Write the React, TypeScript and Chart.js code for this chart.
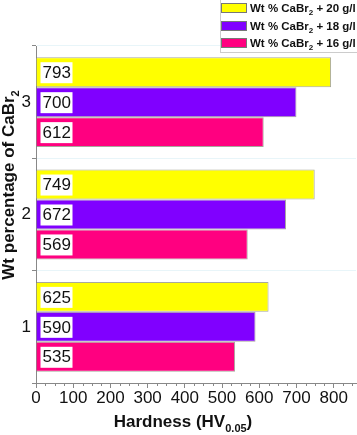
import React, { useEffect, useRef } from 'react';
import { Chart, registerables } from 'chart.js';

Chart.register(...registerables);

// ---- data ----
const categories = ['3', '2', '1'];
const series20 = [793, 749, 625];
const series18 = [700, 672, 590];
const series16 = [612, 569, 535];
const seriesLabels = ['Wt % CaBr_{2} + 20 g/l', 'Wt % CaBr_{2} + 18 g/l', 'Wt % CaBr_{2} + 16 g/l'];
const seriesColors = ['#FFFF00', '#8000FF', '#FF0080'];
const xTitle = 'Hardness (HV_{0.05})';
const yTitle = 'Wt percentage of CaBr_{2}';
const xMin = 0;
const xMax = 860;
const xStep = 100;
const xMinorStep = 25;

const FONT = '"Liberation Sans", Arial, Helvetica, sans-serif';

type Seg = { t: string; sub: boolean };
function parseRich(text: string): Seg[] {
  const out: Seg[] = [];
  const re = /_\{([^}]*)\}/g;
  let last = 0;
  let m: RegExpExecArray | null;
  while ((m = re.exec(text)) !== null) {
    if (m.index > last) out.push({ t: text.slice(last, m.index), sub: false });
    out.push({ t: m[1], sub: true });
    last = m.index + m[0].length;
  }
  if (last < text.length) out.push({ t: text.slice(last), sub: false });
  return out;
}

function richWidth(ctx: CanvasRenderingContext2D, segs: Seg[], size: number, subSize: number) {
  let w = 0;
  for (const s of segs) {
    ctx.font = `bold ${s.sub ? subSize : size}px ${FONT}`;
    w += ctx.measureText(s.t).width;
  }
  return w;
}

function drawRich(
  ctx: CanvasRenderingContext2D,
  text: string,
  x: number,
  y: number,
  size: number,
  subSize: number,
  drop: number,
  align: 'left' | 'center'
) {
  const segs = parseRich(text);
  const w = richWidth(ctx, segs, size, subSize);
  let cx = align === 'center' ? x - w / 2 : x;
  ctx.textBaseline = 'alphabetic';
  ctx.textAlign = 'left';
  for (const s of segs) {
    ctx.font = `bold ${s.sub ? subSize : size}px ${FONT}`;
    ctx.fillText(s.t, cx, y + (s.sub ? drop : 0));
    cx += ctx.measureText(s.t).width;
  }
}

const decorPlugin = {
  id: 'decor',
  afterDatasetsDraw(chart: any) {
    const ctx: CanvasRenderingContext2D = chart.ctx;
    ctx.save();
    chart.data.datasets.forEach((ds: any, i: number) => {
      const meta = chart.getDatasetMeta(i);
      meta.data.forEach((el: any, j: number) => {
        const base = el.base;
        const y = el.y;
        ctx.fillStyle = '#ffffff';
        ctx.fillRect(base + 4, y - 10, 32, 21);
        ctx.fillStyle = '#111111';
        ctx.font = `17px ${FONT}`;
        ctx.textAlign = 'left';
        ctx.textBaseline = 'middle';
        ctx.fillText(String(ds.data[j]), base + 6, y + 1);
      });
    });
    ctx.restore();
  },
  afterDraw(chart: any) {
    const ctx: CanvasRenderingContext2D = chart.ctx;
    const xs = chart.scales.x;
    const area = chart.chartArea;
    ctx.save();
    // minor ticks on x axis
    ctx.strokeStyle = '#888888';
    ctx.lineWidth = 1;
    for (let v = xMin + xMinorStep; v < xMax; v += xMinorStep) {
      if (v % xStep === 0) continue;
      const px = Math.round(xs.getPixelForValue(v)) + 0.5;
      ctx.beginPath();
      ctx.moveTo(px, area.bottom);
      ctx.lineTo(px, area.bottom + 3);
      ctx.stroke();
    }
    // axis titles
    ctx.fillStyle = '#111111';
    drawRich(ctx, xTitle, 183, 427, 17, 11, 5, 'center');
    ctx.save();
    ctx.translate(14, 185);
    ctx.rotate(-Math.PI / 2);
    drawRich(ctx, yTitle, 0, 0, 17, 11, 5, 'center');
    ctx.restore();
    // legend
    ctx.fillStyle = '#ffffff';
    ctx.fillRect(220, -1, 140, 54);
    ctx.strokeStyle = '#cccccc';
    ctx.lineWidth = 1;
    ctx.strokeRect(220.5, -1, 140, 53.5);
    const tops = [3, 21, 38];
    seriesLabels.forEach((lab, i) => {
      ctx.fillStyle = seriesColors[i];
      ctx.fillRect(221, tops[i], 26, 10);
      ctx.strokeStyle = '#777777';
      ctx.strokeRect(221.5, tops[i] + 0.5, 25, 9);
      ctx.fillStyle = '#111111';
      drawRich(ctx, lab, 250, tops[i] + 9, 11.5, 8, 3, 'left');
    });
    ctx.restore();
  },
};

export default function App() {
  const ref = useRef<HTMLCanvasElement | null>(null);
  useEffect(() => {
    if (!ref.current) return;
    const seriesData = [series20, series18, series16];
    const chart = new Chart(ref.current, {
      type: 'bar',
      data: {
        labels: categories,
        datasets: seriesData.map((d, i) => ({
          label: seriesLabels[i],
          data: d,
          backgroundColor: seriesColors[i],
          borderColor: 'rgba(110,110,90,0.6)',
          borderWidth: 1,
          categoryPercentage: 0.8,
          barPercentage: 1.0,
        })),
      },
      options: {
        indexAxis: 'y',
        animation: false,
        responsive: false,
        maintainAspectRatio: false,
        layout: { padding: { top: 46, right: 1, left: 0, bottom: 0 } },
        plugins: { legend: { display: false }, tooltip: { enabled: false }, title: { display: false } },
        scales: {
          x: {
            type: 'linear',
            min: xMin,
            max: xMax,
            afterFit: (s: any) => {
              s.height = 52;
            },
            ticks: {
              stepSize: xStep,
              includeBounds: false,
              maxRotation: 0,
              autoSkip: false,
              padding: 0,
              color: '#111111',
              font: { family: FONT, size: 17 },
            },
            grid: { display: true, drawOnChartArea: false, tickLength: 5, tickColor: '#888888' },
            border: { display: true, color: '#888888', width: 1 },
          },
          y: {
            type: 'category',
            afterFit: (s: any) => {
              s.width = 36;
            },
            ticks: {
              padding: 1,
              color: '#111111',
              font: { family: FONT, size: 17 },
            },
            grid: { display: true, offset: true, color: '#e8f5f9', tickLength: 4, tickColor: '#888888' },
            border: { display: true, color: '#888888', width: 1 },
          },
        },
      },
      plugins: [decorPlugin],
    } as any);
    return () => chart.destroy();
  }, []);
  return (
    <div style={{ position: 'fixed', left: 0, top: 0, width: 357, height: 435, background: '#fff' }}>
      <canvas ref={ref} width={357} height={435} style={{ display: 'block', width: 357, height: 435 }} />
    </div>
  );
}
